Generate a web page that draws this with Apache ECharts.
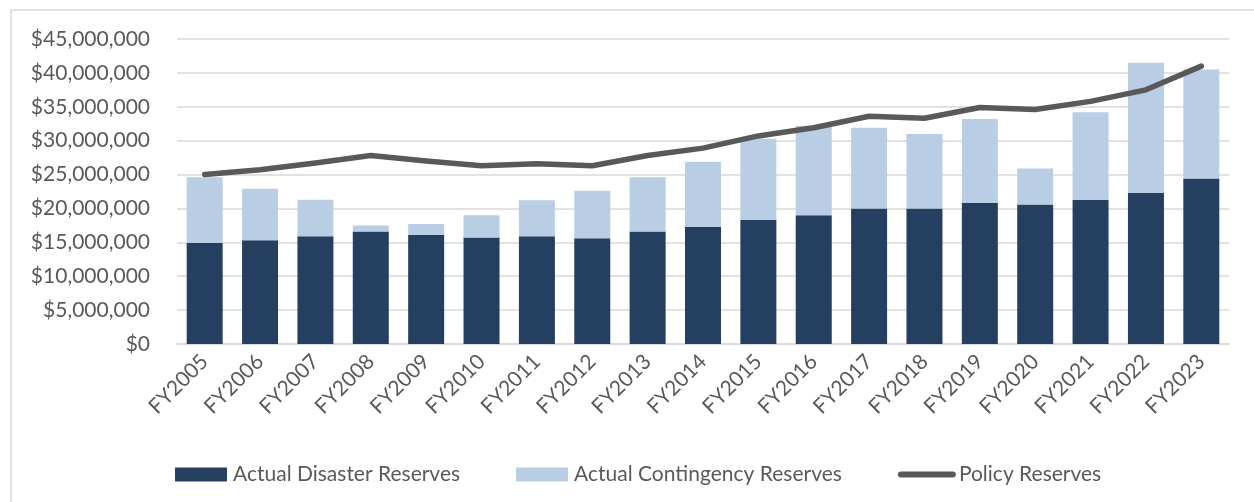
<!DOCTYPE html>
<html>
<head>
<meta charset="utf-8">
<script src="https://cdn.jsdelivr.net/npm/echarts@6/dist/echarts.min.js"></script>
<style>
	html, body { margin: 0; padding: 0; background: #fff; }
	#main { width: 1254px; height: 502px; }
</style>
</head>
<body>
<div id="main"></div>
<script>
	// fiscal years
	var years = ['FY2005', 'FY2006', 'FY2007', 'FY2008', 'FY2009', 'FY2010', 'FY2011', 'FY2012', 'FY2013', 'FY2014',
		'FY2015', 'FY2016', 'FY2017', 'FY2018', 'FY2019', 'FY2020', 'FY2021', 'FY2022', 'FY2023'];

	// actual disaster reserves (dark bars)
	var disaster = [14900000, 15300000, 15900000, 16600000, 16100000, 15700000, 15900000, 15600000, 16600000, 17300000,
		18300000, 19000000, 20000000, 20000000, 20800000, 20600000, 21300000, 22300000, 24400000];

	// actual contingency reserves (light bars, stacked on top)
	var contingency = [9700000, 7600000, 5400000, 900000, 1600000, 3300000, 5300000, 7000000, 8000000, 9600000,
		12000000, 13200000, 11900000, 11000000, 12400000, 5300000, 12900000, 19200000, 16100000];

	// policy reserves (line)
	var policy = [25000000, 25700000, 26700000, 27800000, 27000000, 26300000, 26600000, 26300000, 27800000, 28900000,
		30700000, 31900000, 33600000, 33300000, 34900000, 34600000, 35800000, 37500000, 41000000];

	var txt = '#595959';
	var fnt = 'Lato, "Noto Sans", sans-serif';

	var myChart = echarts.init(document.getElementById('main'));

	myChart.setOption({
		animation: false,
		backgroundColor: '#fff',
		textStyle: { fontFamily: fnt },
		graphic: [{
			type: 'rect',
			shape: { x: 11, y: 10, width: 1260, height: 500 },
			style: { fill: 'none', stroke: '#d9d9d9', lineWidth: 1.5 },
			silent: true
		}],
		grid: { left: 177, right: 25, top: 39, bottom: 158 },
		legend: {
			left: 170,
			top: 459,
			itemWidth: 52,
			itemHeight: 14,
			itemGap: 56,
			textStyle: { color: txt, fontSize: 21, fontFamily: fnt, padding: [0, 0, 0, 1] },
			data: [
				{ name: 'Actual Disaster Reserves', icon: 'rect' },
				{ name: 'Actual Contingency Reserves', icon: 'rect' },
				{
					name: 'Policy Reserves',
					itemStyle: { opacity: 0 },
					lineStyle: { width: 6, cap: 'round', color: '#595959' }
				}
			]
		},
		xAxis: {
			type: 'category',
			data: years,
			axisTick: { show: false },
			axisLine: { lineStyle: { color: '#d9d9d9', width: 1.5 } },
			axisLabel: { interval: 0, rotate: 45, color: txt, fontSize: 21, fontFamily: fnt, margin: 14 }
		},
		yAxis: {
			type: 'value',
			min: 0,
			max: 45000000,
			interval: 5000000,
			axisLine: { show: false },
			axisTick: { show: false },
			splitLine: { lineStyle: { color: '#d9d9d9', width: 1.5 } },
			axisLabel: {
				color: txt, fontSize: 21, fontFamily: fnt, margin: 27,
				formatter: function (v) {
					return '$' + v.toLocaleString('en-US');
				}
			}
		},
		series: [
			{
				name: 'Actual Disaster Reserves',
				type: 'bar',
				stack: 'actual',
				data: disaster,
				barWidth: 36,
				itemStyle: { color: '#253f60' }
			},
			{
				name: 'Actual Contingency Reserves',
				type: 'bar',
				stack: 'actual',
				data: contingency,
				barWidth: 36,
				itemStyle: { color: '#b9cde5' }
			},
			{
				name: 'Policy Reserves',
				type: 'line',
				data: policy,
				symbol: 'none',
				lineStyle: { color: '#595959', width: 5.5, cap: 'round', join: 'round' },
				itemStyle: { color: '#595959' },
				z: 5
			}
		]
	});
</script>
</body>
</html>
